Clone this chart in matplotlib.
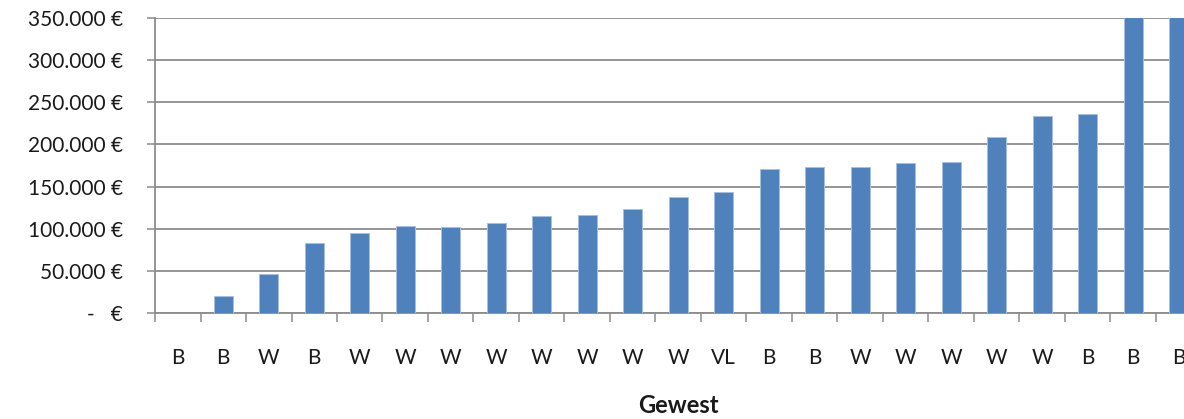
import matplotlib
matplotlib.use("Agg")
import matplotlib.pyplot as plt
from matplotlib.ticker import FixedLocator

categories = ['B', 'B', 'W', 'B', 'W', 'W', 'W', 'W', 'W', 'W', 'W', 'W', 'VL',
              'B', 'B', 'W', 'W', 'W', 'W', 'W', 'B', 'B', 'B']
values = [0, 19800, 46300, 82700, 94900, 102900, 102500, 107200, 114700, 116700,
          123800, 137600, 143900, 171200, 172800, 172800, 177600, 179200, 209200,
          233700, 236500, 400000, 450000]
y_ticks = [0, 50000, 100000, 150000, 200000, 250000, 300000, 350000]
y_tick_labels = ['-   €', '50.000 €', '100.000 €', '150.000 €', '200.000 €',
                 '250.000 €', '300.000 €', '350.000 €']
x_title = 'Gewest'

plt.rcParams['font.family'] = ['Lato', 'DejaVu Sans']

fig = plt.figure(figsize=(11.84, 4.19), dpi=100)
ax = fig.add_axes([155 / 1184, 106 / 419, 1046.5 / 1184, 295 / 419])

x = list(range(len(categories)))
ax.bar(x, values, width=0.42, color='#4F81BD', edgecolor='#A7C0E0',
       linewidth=0.7, zorder=3)

ax.set_xlim(-0.5, len(categories) - 0.5)
ax.set_ylim(0, 350000)

grid_c = '#8C8C8C'
ax.set_yticks(y_ticks)
ax.set_yticklabels(y_tick_labels)
ax.yaxis.grid(True, color=grid_c, linewidth=1.3, zorder=0)
ax.set_axisbelow(True)

ax.set_xticks(x)
ax.set_xticklabels(categories)
ax.xaxis.set_minor_locator(FixedLocator([i - 0.5 for i in range(len(categories) + 1)]))

ax.tick_params(axis='y', which='major', length=6, width=1.1, color=grid_c,
               pad=17, labelsize=15, labelcolor='#1a1a1a')
ax.tick_params(axis='x', which='major', length=0, pad=25, labelsize=15,
               labelcolor='#1a1a1a')
ax.tick_params(axis='x', which='minor', length=6.5, width=1.1, color=grid_c,
               direction='out')

for s in ['top', 'right']:
    ax.spines[s].set_visible(False)
for s in ['left', 'bottom']:
    ax.spines[s].set_color(grid_c)
    ax.spines[s].set_linewidth(1.3)

fig.text(678 / 1184, 1 - 405 / 419, x_title, ha='center', va='center',
         fontsize=17, fontweight='bold', color='#1a1a1a')

fig.savefig('out.png', dpi=100)
